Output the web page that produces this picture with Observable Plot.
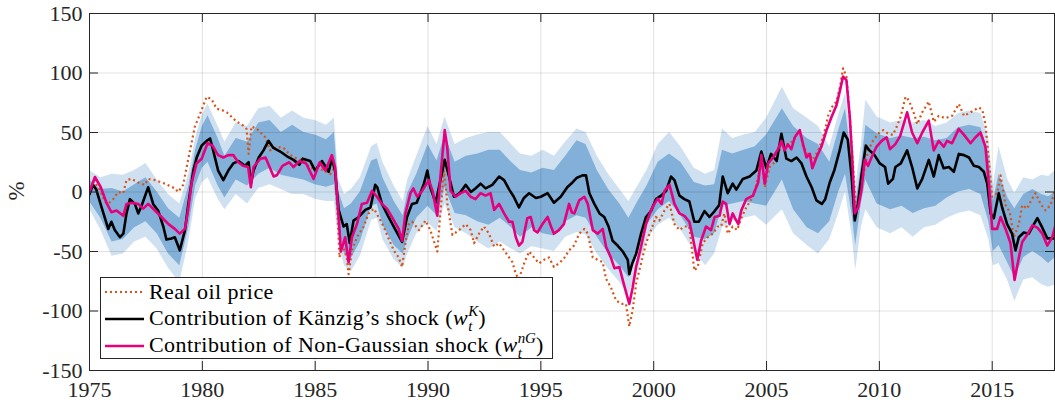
<!DOCTYPE html>
<html>
<head>
<meta charset="utf-8">
<script src="https://cdn.jsdelivr.net/npm/d3@7"></script>
<script src="https://cdn.jsdelivr.net/npm/@observablehq/plot@0.6"></script>
<style>
  html, body { margin: 0; padding: 0; background: #fff; }
  #wrap { position: relative; width: 1055px; height: 403px; font-family: "Liberation Serif", "Times New Roman", "DejaVu Serif", serif; }
  #ylab { position: absolute; left: 17px; top: 191px; transform: translate(-50%, -50%) rotate(-90deg); font-size: 23px; color: #262626; }
  #legend { position: absolute; left: 100px; top: 277px; width: 451px; height: 80px; border: 1px solid #262626; background: #fff; font-size: 22px; color: #000; letter-spacing: 0.45px; }
  .row { height: 27px; display: flex; align-items: center; white-space: nowrap; }
  .row svg { margin-left: 4px; margin-right: 5px; flex: none; }
  .ss { display: inline-block; vertical-align: -0.32em; line-height: 0.95; font-size: 0.68em; font-style: italic; text-align: left; letter-spacing: 0; }
  .ss span { display: block; }
</style>
</head>
<body>
<div id="wrap">
  <div id="chart"></div>
  <div id="ylab">%</div>
  <div id="legend"></div>
</div>
<script>
// ---------- data (time in years, value in %) ----------
const xTicks = [1975, 1980, 1985, 1990, 1995, 2000, 2005, 2010, 2015];
const yTicks = [-150, -100, -50, 0, 50, 100, 150];
const seriesNames = ["Real oil price", "Contribution of Känzig’s shock", "Contribution of Non-Gaussian shock"];

// Real oil price [t, value]
const oilPrice = [
[1975.0,0],[1975.2,9],[1975.45,2],[1975.68,-8],[1975.83,-10],[1976.05,-6],[1976.27,0],[1976.49,-1],[1976.64,10],[1976.86,11],
[1977.16,8],[1977.45,6],[1977.6,11],[1977.9,10],[1978.35,7],[1978.78,3],[1978.93,0],[1979.15,6],[1979.37,27],[1979.67,55],
[1979.97,69],[1980.19,80],[1980.41,78],[1980.63,70],[1980.85,69],[1981.08,67],[1981.3,63],[1981.52,59],[1981.74,57],[1981.96,53],
[1982.05,32],[1982.18,55],[1982.42,53],[1982.79,46],[1983.0,35],[1983.3,38],[1983.6,37],[1983.9,31],[1984.2,28],[1984.5,26],
[1984.8,20],[1985.1,20],[1985.4,18],[1985.67,15],[1985.88,21],[1985.98,-15],[1986.08,-55],[1986.18,-43],[1986.4,-55],[1986.48,-69],
[1986.63,-49],[1986.85,-38],[1987.15,-29],[1987.37,-18],[1987.6,-14],[1987.81,-21],[1988.03,-29],[1988.25,-39],[1988.48,-49],[1988.7,-55],
[1988.85,-63],[1989.0,-43],[1989.15,-27],[1989.3,-25],[1989.6,-32],[1989.89,-24],[1990.1,-32],[1990.41,-50],[1990.56,-15],[1990.71,18],
[1990.86,-10],[1991.08,-36],[1991.38,-32],[1991.67,-27],[1991.89,-32],[1992.04,-43],[1992.26,-35],[1992.48,-29],[1992.7,-35],[1992.93,-46],
[1993.15,-43],[1993.37,-49],[1993.59,-55],[1993.74,-59],[1993.89,-69],[1994.03,-73],[1994.26,-60],[1994.48,-50],[1994.7,-55],[1994.92,-60],
[1995.14,-57],[1995.36,-55],[1995.58,-63],[1995.8,-60],[1996.02,-56],[1996.25,-49],[1996.47,-45],[1996.7,-35],[1996.93,-31],[1997.08,-35],
[1997.3,-55],[1997.52,-57],[1997.74,-59],[1997.89,-73],[1998.1,-80],[1998.33,-91],[1998.55,-94],[1998.77,-94],[1998.92,-113],[1999.07,-99],
[1999.22,-77],[1999.44,-60],[1999.66,-43],[1999.88,-32],[2000.1,-21],[2000.25,-24],[2000.48,-15.5],[2000.7,-10],[2000.92,-27],[2001.14,-32],
[2001.36,-29],[2001.58,-29],[2001.8,-66],[2001.95,-63],[2002.17,-43],[2002.4,-38],[2002.62,-35],[2002.84,-29],[2002.99,-29],[2003.13,-18],
[2003.28,-35],[2003.5,-29],[2003.7,-32],[2003.88,-22],[2004.1,-13],[2004.4,-4],[2004.63,12.6],[2004.77,29],[2004.92,4],[2005.14,21],
[2005.36,25],[2005.58,35],[2005.73,43],[2005.95,40],[2006.18,43],[2006.47,52],[2006.62,38],[2006.84,32],[2007.06,27],[2007.29,35],
[2007.51,46],[2007.73,64],[2007.88,71],[2008.1,76],[2008.25,88],[2008.39,104],[2008.54,97],[2008.69,63],[2008.84,21],[2008.96,-13],
[2009.13,-7],[2009.28,12.6],[2009.5,35],[2009.72,43],[2009.95,49],[2010.17,52],[2010.39,49],[2010.6,48],[2010.75,54],[2010.94,63],
[2011.16,80],[2011.31,77],[2011.53,66],[2011.68,57],[2011.9,67],[2012.19,76],[2012.41,59],[2012.63,64],[2012.93,62],[2013.22,64],
[2013.52,74],[2013.75,64],[2014.04,67],[2014.41,71],[2014.56,69],[2014.7,57],[2014.85,27],[2015.0,-4],[2015.22,-1],[2015.37,14],
[2015.59,-11],[2015.78,-17],[2015.96,-38],[2016.18,-27],[2016.33,-11],[2016.55,-14],[2016.7,-8],[2016.92,-1],[2017.14,-10],[2017.36,-15.5],
[2017.58,-11],[2017.8,2]
];

// Contribution of Känzig's shock [t, value]
const kanzig = [
[1975.0,-2],[1975.15,6],[1975.3,2],[1975.53,-12.6],[1975.83,-31],[1975.97,-25],[1976.12,-32],[1976.35,-38],[1976.5,-35],[1976.64,-18],
[1976.79,-6],[1977.01,-10],[1977.16,-18],[1977.3,-12],[1977.6,4],[1977.82,-10],[1978.05,-16],[1978.27,-29],[1978.41,-40],[1978.63,-39],
[1978.78,-38],[1979.0,-49],[1979.23,-32],[1979.38,-10],[1979.6,18],[1979.75,29],[1979.97,39],[1980.19,43],[1980.34,45],[1980.48,35],
[1980.7,18],[1980.93,10],[1981.15,18],[1981.37,24],[1981.6,26],[1981.89,22],[1982.05,25],[1982.15,7],[1982.27,18],[1982.5,29],
[1982.71,35],[1982.93,43],[1983.15,37],[1983.45,34],[1983.75,30],[1984.04,27],[1984.3,23],[1984.45,28],[1984.78,26],[1985.0,18],
[1985.3,26],[1985.6,17],[1985.74,28],[1985.88,18],[1986.04,-15],[1986.26,-29],[1986.4,-27],[1986.53,-43],[1986.7,-24],[1986.93,-21],
[1987.22,-15],[1987.45,-13],[1987.66,6],[1987.75,4],[1987.96,-10],[1988.25,-21],[1988.48,-29],[1988.85,-42],[1989.07,-21],[1989.29,-10],
[1989.5,-9],[1989.82,7],[1989.97,18],[1990.1,4],[1990.34,-9],[1990.55,10],[1990.74,27],[1990.93,13],[1991.15,-4],[1991.4,-1],
[1991.67,6],[1991.9,0],[1992.1,3],[1992.33,7],[1992.55,3],[1992.85,6],[1993.15,13],[1993.37,10],[1993.6,2],[1993.8,-4],
[1994.03,-13],[1994.25,-5],[1994.48,-1],[1994.78,-5],[1995.0,-4],[1995.3,-1],[1995.58,-9],[1995.88,-4],[1996.17,4],[1996.4,8],
[1996.6,12],[1996.85,14],[1997.0,14],[1997.15,-1],[1997.37,-10],[1997.6,-18],[1997.81,-21],[1998.0,-29],[1998.18,-41],[1998.4,-45],
[1998.63,-50],[1998.85,-57],[1998.92,-69],[1999.05,-60],[1999.22,-52],[1999.44,-35],[1999.66,-21],[1999.88,-16],[2000.1,-6],[2000.33,-3],
[2000.55,1],[2000.77,13],[2000.92,10],[2001.14,-3],[2001.36,-6],[2001.58,-8],[2001.8,-25],[2002.0,-25],[2002.25,-16],[2002.47,-21],
[2002.7,-16],[2002.9,-11],[2003.06,13],[2003.28,-1],[2003.5,7],[2003.66,2],[2003.95,11],[2004.25,13],[2004.55,18],[2004.77,34],
[2004.99,20],[2005.2,32],[2005.45,26],[2005.66,49],[2005.88,28],[2006.1,26],[2006.33,29],[2006.55,24],[2006.77,13],[2007.0,4],
[2007.21,-7],[2007.45,-10],[2007.6,-6],[2007.8,8],[2008.0,18],[2008.24,35],[2008.42,50],[2008.6,44],[2008.77,13],[2008.91,-24],
[2009.05,-10],[2009.2,13],[2009.4,39],[2009.55,35],[2009.75,32],[2010.02,24],[2010.25,21],[2010.39,7],[2010.6,11],[2010.71,21],
[2010.95,24],[2011.23,35],[2011.45,21],[2011.68,3],[2011.9,11],[2012.19,27],[2012.41,13],[2012.63,31],[2012.85,20],[2013.08,21],
[2013.3,17],[2013.52,32],[2013.75,31],[2013.97,29],[2014.19,22],[2014.41,21],[2014.63,17],[2014.78,7],[2014.93,-18],[2015.07,-22],
[2015.29,-1],[2015.44,-13],[2015.66,-27],[2015.88,-35],[2016.03,-49],[2016.18,-38],[2016.4,-34],[2016.62,-35],[2016.85,-27],[2017.0,-22],
[2017.22,-30],[2017.44,-39],[2017.75,-39]
];

// Contribution of Non-Gaussian shock [t, value]
const nonGaussian = [
[1975.0,0],[1975.24,12.6],[1975.5,4],[1975.75,-9],[1975.97,-17],[1976.2,-15.5],[1976.5,-20],[1976.64,-10],[1976.9,-9],[1977.16,-10],
[1977.38,-14],[1977.6,-10],[1977.9,-15.5],[1978.19,-21],[1978.5,-27],[1978.78,-31],[1979.0,-35],[1979.23,-31],[1979.37,-15],[1979.52,7],
[1979.74,24],[1979.97,28],[1980.23,41],[1980.45,39],[1980.7,31],[1980.93,29],[1981.15,31],[1981.37,31],[1981.59,25],[1981.8,22],
[1982.03,21],[1982.15,4],[1982.27,21],[1982.57,28],[1982.8,29],[1983.16,13],[1983.3,14],[1983.55,22],[1983.85,25],[1984.04,21],
[1984.3,26],[1984.6,24],[1984.93,11],[1985.2,25],[1985.45,18],[1985.74,31],[1985.88,21],[1986.04,-21],[1986.14,-50],[1986.33,-38],
[1986.48,-59],[1986.63,-38],[1986.85,-27],[1987.07,-10],[1987.3,-9],[1987.52,1],[1987.74,-4],[1987.96,-10],[1988.18,-14],[1988.4,-21],
[1988.7,-31],[1988.85,-41],[1989.0,-18],[1989.22,-1],[1989.35,3],[1989.52,-4],[1989.74,1],[1990.04,10],[1990.2,1],[1990.41,-20],
[1990.55,13],[1990.74,52],[1990.85,38],[1991.0,1],[1991.22,-4],[1991.45,-1],[1991.67,1],[1991.89,-4],[1992.1,-6],[1992.33,-1],
[1992.55,-3],[1992.77,-1],[1992.93,-15],[1993.15,-10],[1993.37,-18],[1993.59,-25],[1993.74,-25],[1993.89,-38],[1994.03,-45],[1994.18,-42],
[1994.4,-22],[1994.55,-21],[1994.7,-32],[1994.85,-34],[1995.07,-27],[1995.3,-21],[1995.45,-29],[1995.58,-35],[1995.8,-32],[1996.02,-27],
[1996.25,-10],[1996.37,-17],[1996.48,-18],[1996.7,-7],[1996.93,-4],[1997.08,-10],[1997.3,-32],[1997.52,-35],[1997.74,-31],[1997.89,-46],
[1998.1,-55],[1998.26,-64],[1998.48,-63],[1998.67,-77],[1998.92,-94],[1999.07,-80],[1999.22,-63],[1999.44,-46],[1999.66,-27],[1999.88,-15.5],
[2000.03,-10],[2000.18,-5.6],[2000.35,-10],[2000.48,1],[2000.7,6],[2000.92,-10],[2001.14,-18],[2001.36,-20],[2001.58,-25],[2001.73,-38],
[2001.93,-57],[2002.1,-41],[2002.32,-29],[2002.54,-32],[2002.7,-21],[2002.92,-20],[2003.06,-8],[2003.21,-10],[2003.36,-27],[2003.5,-18],
[2003.6,-22],[2003.75,-27],[2003.88,-15.5],[2004.1,-6],[2004.4,-3],[2004.63,8],[2004.77,31],[2004.92,7],[2005.07,24],[2005.29,29],
[2005.51,36],[2005.66,43],[2005.8,35],[2005.95,40],[2006.1,36],[2006.25,46],[2006.47,52],[2006.62,40],[2006.77,29],[2006.92,32],
[2007.03,20],[2007.21,29],[2007.43,38],[2007.66,52],[2007.88,63],[2008.1,73],[2008.25,85],[2008.39,97],[2008.54,94],[2008.69,63],
[2008.8,27],[2008.91,-18],[2009.06,-13],[2009.2,1],[2009.35,27],[2009.5,22],[2009.65,29],[2009.87,38],[2010.1,43],[2010.32,46],
[2010.47,36],[2010.7,40],[2010.92,47],[2011.23,67],[2011.45,50],[2011.68,41],[2011.9,50],[2012.19,60],[2012.41,35],[2012.63,43],
[2012.85,38],[2013.0,43],[2013.22,41],[2013.52,53],[2013.75,48],[2014.04,41],[2014.26,46],[2014.48,50],[2014.7,38],[2014.85,7],
[2015.0,-31],[2015.22,-31],[2015.37,-21],[2015.59,-31],[2015.81,-43],[2015.99,-74],[2016.18,-55],[2016.33,-42],[2016.55,-36],[2016.78,-28],
[2017.0,-30],[2017.22,-35],[2017.44,-45],[2017.66,-38],[2017.8,-28]
];

// Uncertainty bands for Känzig's contribution: [t, outerUpper, innerUpper, innerLower, outerLower]
const bands = [
[1975.0,18,10,-8,-14],[1975.5,12,2,-22,-32],[1976.0,15,3,-42,-54],[1976.5,14,0,-40,-52],[1977.0,18,6,-30,-42],
[1977.5,24,12,-25,-38],[1978.0,10,0,-35,-48],[1978.5,-2,-14,-52,-64],[1979.0,-10,-22,-62,-76],[1979.4,15,5,-30,-42],
[1979.7,45,35,5,-6],[1980.0,65,55,20,8],[1980.25,74,64,25,12],[1980.7,55,45,5,-6],[1981.0,42,30,-5,-15],
[1981.5,58,45,10,-2],[1982.0,55,42,5,-10],[1982.5,70,58,15,3],[1983.0,72,60,20,6],[1983.5,62,50,14,2],
[1984.0,68,56,12,-2],[1984.5,62,50,10,-2],[1985.0,60,48,6,-6],[1985.5,56,44,4,-8],[1985.85,62,50,6,-8],
[1986.05,10,0,-32,-44],[1986.3,-2,-14,-52,-62],[1986.6,2,-10,-56,-67],[1987.0,12,0,-42,-54],[1987.5,38,26,-12,-24],
[1987.75,41,28,-10,-22],[1988.0,25,12,-28,-40],[1988.5,5,-8,-45,-57],[1988.9,-8,-20,-52,-64],[1989.1,10,-1,-40,-52],
[1989.5,30,15,-22,-35],[1990.0,55,40,-12,-26],[1990.4,40,26,-20,-33],[1990.75,63,48,4,-10],[1991.2,40,25,-18,-30],
[1991.7,45,30,-20,-35],[1992.2,48,32,-25,-42],[1992.7,50,35,-28,-48],[1993.2,50,35,-22,-42],[1993.7,40,25,-30,-48],
[1994.1,32,18,-38,-52],[1994.6,30,16,-30,-46],[1995.1,35,20,-35,-48],[1995.6,30,18,-37,-50],[1996.1,42,30,-25,-38],
[1996.6,53,43,-20,-34],[1997.0,50,40,-22,-36],[1997.5,30,18,-38,-52],[1998.0,15,2,-52,-65],[1998.5,2,-10,-62,-76],
[1998.9,-8,-22,-72,-86],[1999.3,5,-8,-52,-66],[1999.7,18,5,-28,-40],[2000.2,40,25,-15,-28],[2000.7,50,32,-8,-22],
[2001.2,38,25,-20,-32],[2001.8,20,8,-38,-50],[2002.3,15,5,-40,-62],[2002.7,18,6,-35,-52],[2003.05,53,35,-12,-30],
[2003.5,45,32,-10,-25],[2004.0,48,35,-8,-22],[2004.5,50,38,-10,-20],[2005.0,62,48,-12,-28],[2005.7,88,70,10,-15],
[2006.2,70,55,-15,-35],[2006.8,62,45,-30,-45],[2007.3,55,40,-35,-52],[2007.8,38,25,-25,-40],[2008.2,65,52,0,-18],
[2008.5,83,70,15,0],[2008.8,40,25,-20,-38],[2008.95,4,-10,-45,-66],[2009.2,40,22,-10,-30],[2009.4,77,56,10,-15],
[2009.9,63,49,-10,-30],[2010.5,58,45,-15,-35],[2011.0,60,47,-12,-30],[2011.5,58,45,-18,-38],[2012.0,60,46,-14,-30],
[2012.5,55,43,-12,-28],[2013.0,58,45,-5,-22],[2013.5,66,54,0,-18],[2014.0,68,56,2,-16],[2014.5,66,54,-2,-20],
[2014.85,45,32,-25,-40],[2015.05,5,-8,-50,-62],[2015.3,38,15,-45,-60],[2015.7,10,-5,-60,-75],[2016.0,-1,-14,-72,-92],
[2016.4,12,-2,-55,-74],[2016.8,10,2,-50,-72],[2017.2,14,-2,-55,-78],[2017.5,13,-4,-60,-80],[2017.8,18,0,-55,-78]
];

// ---------- styles ----------
const colLight = "#cfe1f1";
const colDark = "#82b0d8";
const colOil = "#d95319";
const colK = "#000000";
const colNG = "#e6007e";
const axisCol = "#262626";

const W = 1055, H = 403;
const mL = 89, mR = 1, mT = 13, mB = 33;
const innerW = W - mL - mR, innerH = H - mT - mB;
const tickLen = 9;

const chart = Plot.plot({
  width: W, height: H,
  marginLeft: mL, marginRight: mR, marginTop: mT, marginBottom: mB,
  style: { fontFamily: "'Liberation Serif', 'Times New Roman', 'DejaVu Serif', serif", fontSize: "22px", color: axisCol, background: "#fff" },
  x: { domain: [1975, 2017.76] },
  y: { domain: [-150, 150] },
  marks: [
    Plot.areaY(bands, { x: d => d[0], y1: d => d[4], y2: d => d[1], fill: colLight, clip: true }),
    Plot.areaY(bands, { x: d => d[0], y1: d => d[3], y2: d => d[2], fill: colDark, clip: true }),
    Plot.gridX(xTicks, { stroke: "#000", strokeOpacity: 0.12 }),
    Plot.gridY(yTicks, { stroke: "#000", strokeOpacity: 0.12 }),
    Plot.line(oilPrice, { x: d => d[0], y: d => d[1], stroke: colOil, strokeWidth: 2.2, strokeDasharray: "2,3", strokeLinecap: "butt", clip: true }),
    Plot.line(kanzig, { x: d => d[0], y: d => d[1], stroke: colK, strokeWidth: 2.6, strokeLinejoin: "round", clip: true }),
    Plot.line(nonGaussian, { x: d => d[0], y: d => d[1], stroke: colNG, strokeWidth: 2.6, strokeLinejoin: "round", clip: true }),
    Plot.tickX(xTicks, { x: d => d, insetTop: innerH - tickLen, stroke: axisCol, strokeWidth: 1 }),
    Plot.tickX(xTicks, { x: d => d, insetBottom: innerH - tickLen, stroke: axisCol, strokeWidth: 1 }),
    Plot.tickY(yTicks, { y: d => d, insetRight: innerW - tickLen, stroke: axisCol, strokeWidth: 1 }),
    Plot.tickY(yTicks, { y: d => d, insetLeft: innerW - tickLen, stroke: axisCol, strokeWidth: 1 }),
    Plot.frame({ stroke: axisCol, strokeWidth: 1 }),
    Plot.axisX(xTicks, { tickSize: 0, tickPadding: 11, tickFormat: d => String(d), label: null, fill: axisCol }),
    Plot.axisY(yTicks, { tickSize: 0, tickPadding: 7, tickFormat: d => String(d), label: null, fill: axisCol })
  ]
});
document.getElementById("chart").appendChild(chart);

// ---------- legend ----------
const legendItems = [
  { name: seriesNames[0], color: colOil, dash: "2,3", w: 2.2, math: null },
  { name: seriesNames[1], color: colK, dash: null, w: 2.6, math: ["K", "t"] },
  { name: seriesNames[2], color: colNG, dash: null, w: 2.6, math: ["nG", "t"] }
];
const leg = document.getElementById("legend");
legendItems.forEach(it => {
  const row = document.createElement("div");
  row.className = "row";
  row.innerHTML =
    `<svg width="39" height="10"><line x1="0" x2="39" y1="5" y2="5" stroke="${it.color}" stroke-width="${it.w}"${it.dash ? ` stroke-dasharray="${it.dash}"` : ""}/></svg>` +
    `<span>${it.name}${it.math ? ` (<i>w</i><span class="ss"><span>${it.math[0]}</span><span>${it.math[1]}</span></span>)` : ""}</span>`;
  leg.appendChild(row);
});
</script>
</body>
</html>
